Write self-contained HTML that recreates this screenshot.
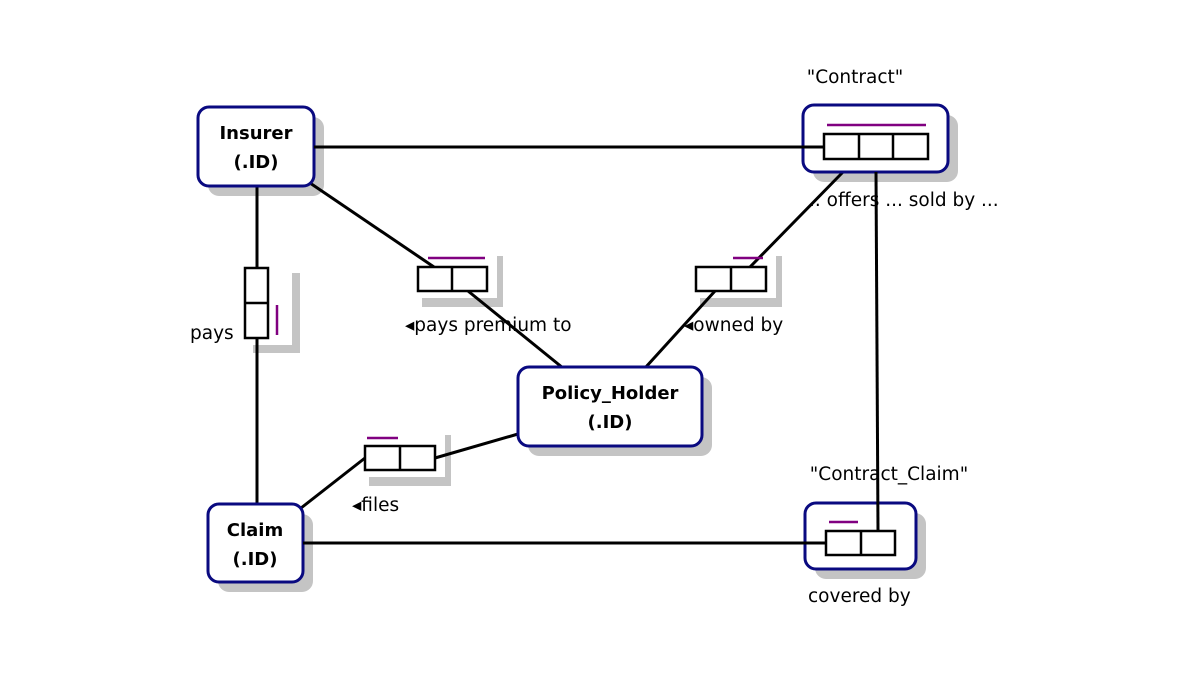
<!DOCTYPE html>
<html><head><meta charset="utf-8"><style>
body{margin:0;background:#fff}
svg text{font-family:"DejaVu Sans","Liberation Sans",sans-serif}
</style></head><body>
<svg width="1200" height="675" viewBox="0 0 1200 675" xmlns="http://www.w3.org/2000/svg">
<g fill="#c4c4c4">
<rect x="208" y="117" width="116" height="79" rx="11"/>
<rect x="813" y="115" width="145" height="67" rx="11"/>
<rect x="528" y="377" width="184" height="79" rx="11"/>
<rect x="218" y="514" width="95" height="78" rx="11"/>
<rect x="815" y="513" width="111" height="66" rx="11"/>
<rect x="422" y="256" width="81" height="51"/>
<rect x="700" y="256" width="82" height="51"/>
<rect x="369" y="435" width="82" height="51"/>
<rect x="253" y="273" width="47" height="80"/>
</g>
<g fill="#fff">
<rect x="422" y="256" width="75" height="42"/>
<rect x="700" y="256" width="76" height="42"/>
<rect x="369" y="435" width="76" height="42"/>
<rect x="253" y="273" width="39" height="72"/>
</g>
<g stroke="#000" stroke-width="3" fill="none">
<line x1="843" y1="172" x2="750" y2="267"/>
<line x1="715" y1="291" x2="645" y2="368"/>
<line x1="310" y1="183" x2="434" y2="267"/>
<line x1="468" y1="291" x2="563" y2="368"/>
<line x1="257" y1="186" x2="257" y2="268"/>
<line x1="257" y1="338" x2="257" y2="505"/>
<line x1="301" y1="508" x2="365" y2="458"/>
<line x1="435" y1="458" x2="518" y2="434"/>
</g>
<g stroke="#0a0a80" stroke-width="3" fill="#fff">
<rect x="198" y="107" width="116" height="79" rx="11"/>
<rect x="803" y="105" width="145" height="67" rx="11"/>
<rect x="518" y="367" width="184" height="79" rx="11"/>
<rect x="208" y="504" width="95" height="78" rx="11"/>
<rect x="805" y="503" width="111" height="66" rx="11"/>
</g>
<g stroke="#000" stroke-width="3">
<line x1="314" y1="147" x2="824" y2="147"/>
<line x1="303" y1="543" x2="826" y2="543"/>
<line x1="876" y1="172" x2="878" y2="531"/>
</g>
<g stroke="#000" stroke-width="2.5" fill="#fff">
<rect x="824" y="134" width="104" height="25"/>
<line x1="859" y1="134" x2="859" y2="159"/><line x1="893" y1="134" x2="893" y2="159"/>
<rect x="418" y="267" width="69" height="24"/><line x1="452" y1="267" x2="452" y2="291"/>
<rect x="696" y="267" width="70" height="24"/><line x1="731" y1="267" x2="731" y2="291"/>
<rect x="365" y="446" width="70" height="24"/><line x1="400" y1="446" x2="400" y2="470"/>
<rect x="826" y="531" width="69" height="24"/><line x1="861" y1="531" x2="861" y2="555"/>
<rect x="245" y="268" width="23" height="70"/><line x1="245" y1="303" x2="268" y2="303"/>
</g>
<g stroke="#800080" stroke-width="2.5">
<line x1="827" y1="125" x2="926" y2="125"/>
<line x1="428" y1="258" x2="485" y2="258"/>
<line x1="733" y1="258" x2="763" y2="258"/>
<line x1="367" y1="438" x2="398" y2="438"/>
<line x1="829" y1="522" x2="858" y2="522"/>
<line x1="277" y1="305" x2="277" y2="335"/>
</g>
<g font-weight="bold" font-size="18" text-anchor="middle" fill="#000">
<text x="256" y="139">Insurer</text><text x="256" y="168">(.ID)</text>
<text x="610" y="399">Policy_Holder</text><text x="610" y="428">(.ID)</text>
<text x="255" y="536">Claim</text><text x="255" y="565">(.ID)</text>
</g>
<g font-size="18.5" fill="#000">
<text x="855" y="83" text-anchor="middle">"Contract"</text>
<text x="809" y="206">.. offers ... sold by ...</text>
<text x="405" y="331">◂pays premium to</text>
<text x="684" y="331">◂owned by</text>
<text x="190" y="339">pays</text>
<text x="352" y="511">◂files</text>
<text x="889" y="480" text-anchor="middle">"Contract_Claim"</text>
<text x="808" y="602">covered by</text>
</g>
</svg>
</body></html>
